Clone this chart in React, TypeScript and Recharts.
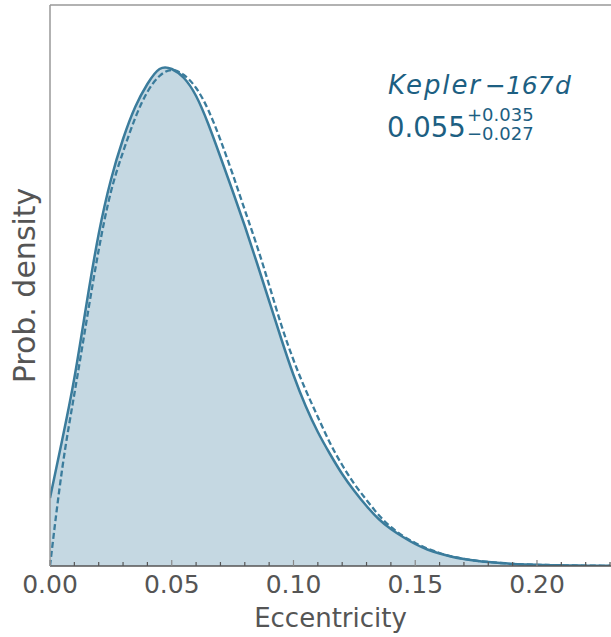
import { Area, ComposedChart, Label, Line, ReferenceLine, XAxis, YAxis } from 'recharts';

// eccentricity grid (step 0.005)
const eccentricity = [
  0, 0.005, 0.01, 0.015, 0.02, 0.025, 0.03, 0.035, 0.04, 0.045, 0.05, 0.055, 0.06, 0.065, 0.07, 0.075,
  0.08, 0.085, 0.09, 0.095, 0.1, 0.105, 0.11, 0.115, 0.12, 0.125, 0.13, 0.135, 0.14, 0.145, 0.15, 0.155,
  0.16, 0.165, 0.17, 0.175, 0.18, 0.185, 0.19, 0.195, 0.2, 0.205, 0.21, 0.215, 0.22, 0.225, 0.23,
];

// posterior (solid, filled) - arbitrary density units
const posterior = [
  68, 126, 188, 262, 332, 386, 427, 459, 482, 497, 497, 488, 470, 442, 409, 375,
  340, 303, 265, 227, 191, 160, 134, 112, 92, 75, 60, 47, 37, 29, 22, 16.5,
  12.5, 9.3, 7, 5.2, 3.9, 2.9, 2.1, 1.6, 1.2, 0.9, 0.65, 0.5, 0.35, 0.25, 0.18,
];

// reference distribution (dashed)
const reference = [
  0, 97, 172, 245, 316, 374, 414, 448, 474, 490, 496, 491, 478, 456, 426, 392,
  356, 320, 281, 241, 206, 176, 149, 123, 101, 82, 66, 51, 39, 30, 23, 17.5,
  13, 9.6, 7.2, 5.3, 4, 3, 2.2, 1.6, 1.2, 0.9, 0.65, 0.5, 0.35, 0.25, 0.18,
];

const xTicks = [
  0, 0.01, 0.02, 0.03, 0.04, 0.05, 0.06, 0.07, 0.08, 0.09, 0.1, 0.11, 0.12,
  0.13, 0.14, 0.15, 0.16, 0.17, 0.18, 0.19, 0.2, 0.21, 0.22, 0.23,
];
const majorTicks = [0, 0.05, 0.1, 0.15, 0.2];

const X_MAX = 0.2304;
const Y_MAX = 561;

const lineColor = '#3b7c9c';
const textColor = '#1d5f82';
const axisText = '#555555';
const font = '"DejaVu Sans", sans-serif';

const data = eccentricity.map((e, i) => ({ e, post: posterior[i], ref: reference[i] }));

const EccTick = (props: any) => {
  const { x, y, payload } = props;
  const v = payload.value as number;
  const major = majorTicks.some((m) => Math.abs(m - v) < 1e-6);
  return (
    <g>
      <line x1={x} x2={x} y1={y} y2={y - (major ? 6 : 4)} stroke={major ? '#888' : '#555'} strokeWidth={1.2} />
      {major && (
        <text x={x} y={y + 27} textAnchor="middle" fontSize={25} fontFamily={font} fill={axisText}>
          {v.toFixed(2)}
        </text>
      )}
    </g>
  );
};

const XLabel = (props: any) => {
  const vb = props.viewBox;
  return (
    <text x={vb.x + vb.width / 2} y={vb.y + 61} textAnchor="middle" fontSize={26} fontFamily={font} fill={axisText}>
      Eccentricity
    </text>
  );
};

const YLabel = (props: any) => {
  const vb = props.viewBox;
  const cx = vb.x + 35;
  const cy = vb.y + vb.height / 2;
  return (
    <text
      x={cx}
      y={cy}
      transform={`rotate(-90 ${cx} ${cy})`}
      textAnchor="middle"
      fontSize={30}
      fontFamily={font}
      fill={axisText}
    >
      Prob. density
    </text>
  );
};

export default function App() {
  return (
    <div style={{ position: 'absolute', left: 0, top: 0, width: 611, height: 637, background: '#fff' }}>
      <ComposedChart width={611} height={637} data={data} margin={{ top: 5, right: 0, bottom: 0, left: 0 }}>
        <XAxis
          dataKey="e"
          type="number"
          domain={[0, X_MAX]}
          ticks={xTicks}
          interval={0}
          allowDataOverflow
          tickSize={0}
          tickMargin={0}
          tickLine={false}
          tick={<EccTick />}
          axisLine={{ stroke: '#555', strokeWidth: 1.5 }}
          height={71}
        >
          <Label content={<XLabel />} />
        </XAxis>
        <YAxis
          type="number"
          domain={[0, Y_MAX]}
          allowDataOverflow
          tick={false}
          tickLine={false}
          axisLine={{ stroke: '#999', strokeWidth: 1.5 }}
          width={50}
        >
          <Label content={<YLabel />} />
        </YAxis>
        <ReferenceLine y={Y_MAX} stroke="#999" strokeWidth={1.5} />
        <Area
          type="natural"
          dataKey="post"
          stroke={lineColor}
          strokeWidth={2.5}
          fill="#c5d8e2"
          fillOpacity={1}
          dot={false}
          activeDot={false}
          isAnimationActive={false}
        />
        <Line
          type="natural"
          dataKey="ref"
          stroke={lineColor}
          strokeWidth={2.3}
          strokeDasharray="6 3"
          dot={false}
          activeDot={false}
          isAnimationActive={false}
        />
      </ComposedChart>
      <svg width={611} height={637} style={{ position: 'absolute', left: 0, top: 0, pointerEvents: 'none' }}>
        <g fontFamily={font} fill={textColor}>
          <text x={388} y={94} fontSize={26} fontStyle="italic" textLength={92} lengthAdjust="spacing">
            Kepler
          </text>
          <text x={485} y={94} fontSize={25} fontStyle="italic">
            −167
          </text>
          <text x={555} y={94} fontSize={25} fontStyle="italic">
            d
          </text>
          <text x={387} y={137} fontSize={27.5}>
            0.055
          </text>
          <text x={467} y={121} fontSize={18}>
            +0.035
          </text>
          <text x={467} y={140} fontSize={18}>
            −0.027
          </text>
        </g>
      </svg>
    </div>
  );
}
